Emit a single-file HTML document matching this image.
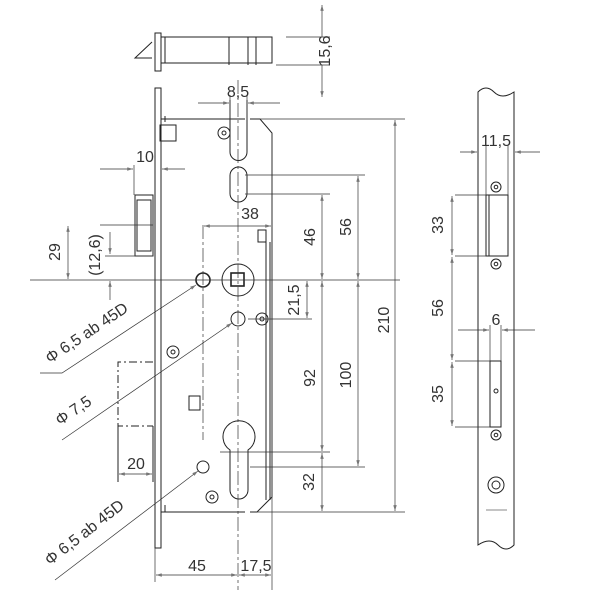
<!DOCTYPE html>
<html><head><meta charset="utf-8"><style>
html,body{margin:0;padding:0;background:#fff}
svg{display:block}
text{font-family:"Liberation Sans Narrow","Liberation Sans",sans-serif;font-size:14px;fill:#333}
.l{font-size:16px}
</style></head><body>
<svg width="600" height="600" viewBox="0 0 600 600" xmlns="http://www.w3.org/2000/svg">
<defs>
<marker id="a" viewBox="0 0 10 6" refX="10" refY="3" markerWidth="9" markerHeight="5" orient="auto-start-reverse"><path d="M0,0 L10,3 L0,6 z" fill="#777"/></marker>
</defs>
<g stroke="#222" fill="none" stroke-width="1">
<rect x="155" y="33" width="6" height="38"/>
<path d="M161,37 L272,37 L272,63 L161,63"/>
<path d="M152,42 L135,58 L152,58"/>
<path d="M229,37 V65 M248,37 V65 M256,37 V65 M165,37 V63"/>
<rect x="155" y="88" width="6" height="460"/>
<path d="M161,119 H245 M250,119 H260 L272,133 V497 L257,512 H250 M245,512 H161"/>
<path d="M165,116 V122 M165,505 V512"/>
<rect x="160" y="125" width="16" height="16"/>
<path d="M230,100 V152 A8.5,8.5 0 0 0 247,152 V100"/>
<rect x="230" y="167" width="17" height="35" rx="8.5"/>
<circle cx="238" cy="280" r="16"/>
<rect x="231" y="273" width="13" height="13" stroke-width="1.6"/>
<circle cx="203" cy="280" r="7" stroke-width="1.6"/>
<circle cx="238" cy="319" r="7"/>
<rect x="258" y="230" width="8" height="12"/>
<path d="M266,242 V500 M270,242 V500"/>
<path d="M230,450 A16,16 0 1 1 248,450 L248,490 A9,9 0 0 1 230,490 Z"/>
<circle cx="203" cy="467" r="6"/>
<rect x="189" y="396" width="11" height="14"/>
<circle cx="224" cy="133" r="6"/><circle cx="224" cy="133" r="2"/>
<circle cx="262" cy="319" r="6"/><circle cx="262" cy="319" r="2"/>
<circle cx="173" cy="352" r="6"/><circle cx="173" cy="352" r="2"/>
<circle cx="212" cy="497" r="6"/><circle cx="212" cy="497" r="2"/>
<rect x="135" y="195" width="18" height="61"/>
<rect x="137" y="200" width="14" height="51"/>
<path d="M153,362 H118 V426 H153" stroke-dasharray="8,3,2,3"/>
<path d="M118,426 V482 M153,426 V482"/>
<path d="M478,92 Q486,84 494,92 T514,92 V545 Q506,553 498,545 T478,545 Z"/>
<rect x="486" y="195" width="22" height="61"/>
<path d="M489,195 V256"/>
<rect x="490" y="361" width="11" height="66"/>
<circle cx="496" cy="187" r="5"/><circle cx="496" cy="187" r="1.8"/>
<circle cx="496" cy="264" r="5"/><circle cx="496" cy="264" r="1.8"/>
<circle cx="496" cy="435" r="5"/><circle cx="496" cy="435" r="1.8"/>
<circle cx="496" cy="391" r="2"/>
<circle cx="496" cy="485" r="8"/><circle cx="496" cy="485" r="4"/>
<path d="M486,510 H507" stroke="#888"/>
</g>
<g stroke="#333" stroke-width="0.7" fill="none">
<path d="M30,280 H400"/>
<path d="M238,80 V590" stroke-dasharray="14,3,3,3"/>
<path d="M203,225 V440" stroke-dasharray="14,3,3,3"/>
<path d="M272,133 V590 M155,548 V582"/>
<path d="M260,119 H405 M245,175 H365 M245,194 H330 M248,319 H312 M220,452 H330 M250,467 H365 M257,512 H405"/>
<path d="M286,37 H330 M276,65 H330 M100,225 H153 M105,256 H153 M230,95 V120 M247,95 V120 M134,165 V195"/>
<g marker-start="url(#a)" marker-end="url(#a)">
<path d="M322,37 V5" marker-start="none"/><path d="M322,65 V97" marker-start="none"/>
<path d="M395,120 V511"/>
<path d="M358,176 V279"/><path d="M358,281 V466"/>
<path d="M322,195 V279"/><path d="M322,281 V451"/><path d="M322,453 V511"/>
<path d="M307,281 V318"/>
<path d="M68,226 V279"/>
<path d="M204,226 H271"/>
<path d="M119,474 H152"/>
<path d="M156,575 H237"/><path d="M239,575 H271"/>
<path d="M452,196 V255"/><path d="M452,257 V360"/><path d="M452,362 V426"/>
</g>
<path d="M110,232 V254" marker-end="url(#a)"/><path d="M110,300 V281" marker-end="url(#a)"/>
<path d="M198,103 H229" marker-end="url(#a)"/><path d="M280,103 H248" marker-end="url(#a)"/>
<path d="M100,169 H133" marker-end="url(#a)"/><path d="M185,169 H162" marker-end="url(#a)"/>
<path d="M460,152 H477" marker-end="url(#a)"/><path d="M540,152 H515" marker-end="url(#a)"/>
<path d="M458,330 H489" marker-end="url(#a)"/><path d="M535,330 H502" marker-end="url(#a)"/>
<path d="M455,195 H486 M455,256 H486 M455,361 H490 M455,427 H490 M486,145 V195 M508,145 V195 M490,325 V361 M501,325 V361"/>
<path d="M40,373 H62 L196,285" marker-end="url(#a)"/>
<path d="M62,440 L232,323" marker-end="url(#a)"/>
<path d="M55,580 L198,471" marker-end="url(#a)"/>
</g>
<text x="325" y="51" transform="rotate(-90 325 51)" text-anchor="middle" dy="5" class="l">15,6</text>
<text x="238" y="97" text-anchor="middle" class="l">8,5</text>
<text x="145" y="162" text-anchor="middle" class="l">10</text>
<text x="250" y="219" text-anchor="middle" class="l">38</text>
<text x="310" y="237" transform="rotate(-90 310 237)" text-anchor="middle" dy="5" class="l">46</text>
<text x="346" y="227" transform="rotate(-90 346 227)" text-anchor="middle" dy="5" class="l">56</text>
<text x="294" y="300" transform="rotate(-90 294 300)" text-anchor="middle" dy="5" class="l">21,5</text>
<text x="384" y="320" transform="rotate(-90 384 320)" text-anchor="middle" dy="5" class="l">210</text>
<text x="310" y="378" transform="rotate(-90 310 378)" text-anchor="middle" dy="5" class="l">92</text>
<text x="346" y="375" transform="rotate(-90 346 375)" text-anchor="middle" dy="5" class="l">100</text>
<text x="309" y="482" transform="rotate(-90 309 482)" text-anchor="middle" dy="5" class="l">32</text>
<text x="55" y="252" transform="rotate(-90 55 252)" text-anchor="middle" dy="5" class="l">29</text>
<text x="95" y="255" transform="rotate(-90 95 255)" text-anchor="middle" dy="5" class="l">(12,6)</text>
<text x="136" y="469" text-anchor="middle" class="l">20</text>
<text x="197" y="571" text-anchor="middle" class="l">45</text>
<text x="256" y="571" text-anchor="middle" class="l">17,5</text>
<text x="496" y="146" text-anchor="middle" class="l">11,5</text>
<text x="496" y="325" text-anchor="middle" class="l">6</text>
<text x="438" y="225" transform="rotate(-90 438 225)" text-anchor="middle" dy="5" class="l">33</text>
<text x="438" y="308" transform="rotate(-90 438 308)" text-anchor="middle" dy="5" class="l">56</text>
<text x="438" y="394" transform="rotate(-90 438 394)" text-anchor="middle" dy="5" class="l">35</text>
<text class="l" transform="translate(50,364) rotate(-34)">Φ  6,5  ab  45D</text>
<text class="l" transform="translate(60,426) rotate(-34)">Φ   7,5</text>
<text class="l" transform="translate(50,566) rotate(-38)">Φ  6,5  ab  45D</text>
</svg>
</body></html>
